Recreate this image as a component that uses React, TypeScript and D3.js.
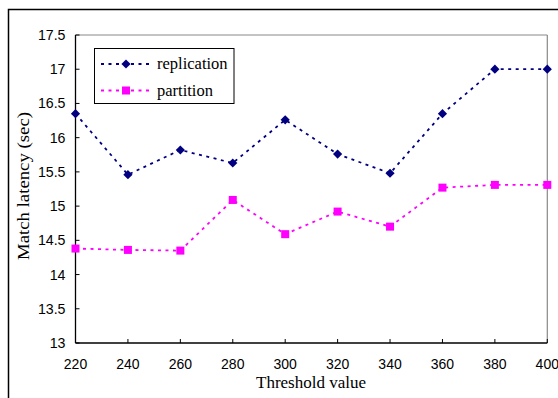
import React from "react";
import * as d3 from "d3";

const thresholds = [220, 240, 260, 280, 300, 320, 340, 360, 380, 400];
const replication = [16.35, 15.46, 15.82, 15.63, 16.26, 15.76, 15.48, 16.35, 17.0, 17.0];
const partition = [14.38, 14.36, 14.35, 15.09, 14.59, 14.92, 14.7, 15.27, 15.31, 15.31];
const yTicks = [13, 13.5, 14, 14.5, 15, 15.5, 16, 16.5, 17, 17.5];
const seriesNames = ["replication", "partition"];

export default function App() {
  const W = 558, H = 398;
  const left = 75.5, right = 547.3, top = 35, bottom = 343;
  const x = d3.scaleLinear().domain([220, 400]).range([left, right]);
  const y = d3.scaleLinear().domain([13, 17.5]).range([bottom, top]);

  const line = d3.line<number>().x((_, i) => x(thresholds[i])).y((d) => y(d));

  const navy = "#000080";
  const magenta = "#ff00ff";
  const diamond = (cx: number, cy: number, key: any) => (
    <path key={key} d={`M${cx},${cy - 4.6}L${cx + 4.6},${cy}L${cx},${cy + 4.6}L${cx - 4.6},${cy}Z`} fill={navy} />
  );
  const square = (cx: number, cy: number, key: any) => (
    <rect key={key} x={cx - 4} y={cy - 4} width={8} height={8} fill={magenta} />
  );

  return (
    <svg width={W} height={H} style={{ position: "absolute", left: 0, top: 0 }}>
      <rect x={0} y={0} width={W} height={H} fill="#fff" />
      {/* outer frame */}
      <rect x={8.5} y={9.5} width={700} height={600} fill="none" stroke="#000" strokeWidth={1.5} />
      {/* plot frame */}
      <line x1={left} x2={right} y1={top} y2={top} stroke="#888" strokeWidth={1} />
      <line x1={right} x2={right} y1={top} y2={bottom} stroke="#888" strokeWidth={1.2} />
      <line x1={left} x2={left} y1={top} y2={bottom} stroke="#000" strokeWidth={1.3} />
      <line x1={left} x2={right} y1={bottom} y2={bottom} stroke="#000" strokeWidth={1.3} />
      {/* y ticks */}
      {yTicks.map((t) => (
        <g key={"y" + t}>
          <line x1={left} x2={left + 4} y1={y(t)} y2={y(t)} stroke="#000" strokeWidth={1} />
          <text x={65.5} y={y(t)} dy="0.35em" textAnchor="end" fontFamily="Liberation Sans, Arial, sans-serif" fontSize={14.2}>
            {t}
          </text>
        </g>
      ))}
      {/* x ticks */}
      {thresholds.map((t) => (
        <g key={"x" + t}>
          <line x1={x(t)} x2={x(t)} y1={bottom} y2={bottom - 4} stroke="#000" strokeWidth={1} />
          <text x={x(t)} y={369} textAnchor="middle" fontFamily="Liberation Sans, Arial, sans-serif" fontSize={14}>
            {t}
          </text>
        </g>
      ))}
      {/* axis titles */}
      <text x={311} y={388} textAnchor="middle" fontFamily="Liberation Serif, Times New Roman, serif" fontSize={17}>
        Threshold value
      </text>
      <text
        transform="translate(28.5,186) rotate(-90)"
        textAnchor="middle"
        fontFamily="Liberation Serif, Times New Roman, serif"
        fontSize={17.5}
        textLength={148}
        lengthAdjust="spacingAndGlyphs"
      >
        Match latency (sec)
      </text>
      {/* series */}
      <path d={line(replication) || ""} fill="none" stroke={navy} strokeWidth={1.8} strokeDasharray="3 4.5" />
      <path d={line(partition) || ""} fill="none" stroke={magenta} strokeWidth={1.8} strokeDasharray="3 4.5" />
      {replication.map((v, i) => diamond(x(thresholds[i]), y(v), "r" + i))}
      {partition.map((v, i) => square(x(thresholds[i]), y(v), "p" + i))}
      {/* legend */}
      <rect x={94.5} y={48.5} width={139.5} height={55} fill="#fff" stroke="#000" strokeWidth={1} />
      <line x1={101} x2={151} y1={64} y2={64} stroke={navy} strokeWidth={1.8} strokeDasharray="3 4.5" />
      {diamond(126, 64, "ld")}
      <text x={157} y={69} fontFamily="Liberation Serif, Times New Roman, serif" fontSize={16.5}>
        {seriesNames[0]}
      </text>
      <line x1={101} x2={151} y1={90.5} y2={90.5} stroke={magenta} strokeWidth={1.8} strokeDasharray="3 4.5" />
      {square(126, 90.5, "ls")}
      <text x={157} y={95.5} fontFamily="Liberation Serif, Times New Roman, serif" fontSize={16.5}>
        {seriesNames[1]}
      </text>
    </svg>
  );
}
